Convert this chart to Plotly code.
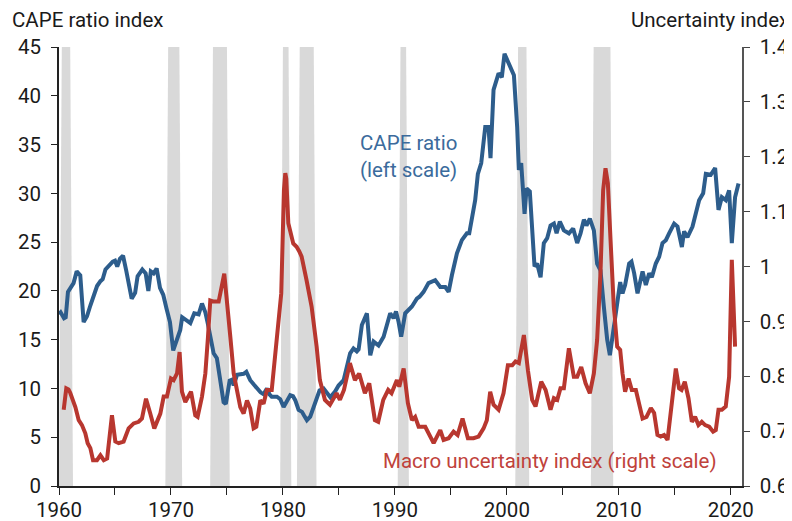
import plotly.graph_objects as go

# ---------------- data ----------------
cape_years = [1960.0, 1960.15, 1960.45, 1960.6, 1960.8, 1961.05, 1961.3, 1961.58, 1961.9, 1962.2,
              1962.5, 1962.8, 1963.1, 1963.4, 1963.7, 1963.9, 1964.15, 1964.5, 1964.8, 1965.0,
              1965.2, 1965.45, 1965.72, 1966.0, 1966.25, 1966.49, 1966.8, 1967.02, 1967.44, 1967.74,
              1967.98, 1968.2, 1968.45, 1968.72, 1969.02, 1969.31, 1969.6, 1969.91, 1970.2, 1970.5,
              1970.83, 1971.0, 1971.4, 1971.73, 1972.08, 1972.47, 1972.77, 1973.07, 1973.3, 1973.51,
              1973.81, 1974.1, 1974.4, 1974.7, 1974.9, 1975.24, 1975.45, 1975.6, 1975.9, 1976.2,
              1976.49, 1976.73, 1977.08, 1977.4, 1977.68, 1978.0, 1978.27, 1978.57, 1978.8, 1979.0,
              1979.46, 1979.76, 1980.06, 1980.35, 1980.65, 1980.9, 1981.1, 1981.4, 1981.7, 1981.9,
              1982.14, 1982.44, 1982.65, 1982.89, 1983.27, 1983.63, 1983.9, 1984.23, 1984.67, 1984.97,
              1985.42, 1985.71, 1986.0, 1986.3, 1986.6, 1986.76, 1987.05, 1987.5, 1987.8, 1988.1,
              1988.54, 1988.99, 1989.3, 1989.58, 1989.88, 1990.1, 1990.33, 1990.56, 1990.92, 1991.2,
              1991.52, 1991.96, 1992.2, 1992.56, 1993.0, 1993.6, 1994.05, 1994.5, 1994.8, 1995.09,
              1995.54, 1995.98, 1996.43, 1996.64, 1996.88, 1997.17, 1997.41, 1997.71, 1998.07, 1998.36,
              1998.54, 1998.81, 1999.26, 1999.55, 1999.79, 2000.03, 2000.33, 2000.63, 2000.92, 2001.07,
              2001.28, 2001.58, 2001.76, 2002.05, 2002.47, 2002.7, 2003.01, 2003.3, 2003.6, 2003.9,
              2004.2, 2004.44, 2004.73, 2005.09, 2005.54, 2005.92, 2006.28, 2006.58, 2006.88, 2007.11,
              2007.41, 2007.77, 2008.06, 2008.36, 2008.66, 2008.96, 2009.2, 2009.49, 2009.85, 2010.12,
              2010.33, 2010.56, 2010.92, 2011.13, 2011.37, 2011.67, 2012.12, 2012.41, 2012.71, 2012.95,
              2013.3, 2013.6, 2013.9, 2014.2, 2014.49, 2014.94, 2015.24, 2015.63, 2015.83, 2016.13,
              2016.58, 2016.88, 2017.17, 2017.53, 2017.77, 2018.21, 2018.6, 2018.9, 2019.2, 2019.55,
              2019.85, 2020.09, 2020.38, 2020.69]
cape_values = [17.6, 17.8, 17.2, 17.3, 19.9, 20.4, 20.8, 22.0, 21.6, 16.8,
               17.4, 18.5, 19.6, 20.5, 21.0, 21.2, 22.2, 22.7, 23.0, 23.1,
               22.5, 23.3, 23.6, 22.1, 20.8, 19.2, 19.8, 21.5, 22.2, 21.8,
               20.0, 22.0, 21.8, 22.3, 20.3, 19.6, 18.2, 16.8, 13.9, 14.9,
               16.0, 17.3, 17.0, 16.7, 17.7, 17.6, 18.7, 17.8, 16.6, 15.3,
               13.6, 13.1, 10.5, 8.6, 8.4, 10.8, 10.9, 10.3, 11.4, 11.5,
               11.5, 11.7, 10.85, 10.4, 10.0, 9.6, 9.4, 10.0, 9.4, 9.15,
               9.15, 8.9, 8.1, 8.7, 9.3, 9.2, 8.8, 7.8, 7.6, 7.2,
               6.75, 7.1, 7.8, 8.6, 9.8, 10.0, 9.6, 9.1, 9.7, 10.3,
               10.85, 12.2, 13.6, 14.1, 13.8, 14.0, 16.5, 17.7, 13.4, 14.8,
               14.4, 15.3, 16.5, 17.7, 17.2, 17.9, 16.8, 15.3, 17.7, 18.0,
               18.4, 19.2, 19.4, 19.9, 20.8, 21.1, 20.4, 20.4, 19.9, 21.6,
               23.85, 25.2, 25.9, 25.9, 27.6, 29.3, 32.0, 33.1, 36.8, 36.8,
               33.6, 40.6, 42.3, 41.9, 44.3, 43.6, 43.0, 42.1, 36.8, 32.4,
               33.1, 27.9, 30.5, 30.2, 22.5, 22.8, 21.4, 24.9, 25.4, 26.7,
               26.9, 25.9, 27.1, 26.2, 25.9, 26.4, 24.9, 25.9, 27.3, 26.7,
               27.4, 26.2, 22.8, 22.1, 18.4, 15.0, 13.4, 15.6, 18.7, 20.9,
               19.75, 20.6, 22.8, 23.0, 21.8, 19.75, 22.0, 20.6, 21.8, 21.4,
               22.8, 23.5, 24.9, 25.2, 25.9, 26.9, 26.6, 24.5, 26.1, 25.5,
               26.6, 27.9, 29.3, 30.0, 32.0, 31.9, 32.6, 28.3, 29.6, 29.3,
               30.3, 24.9, 29.6, 31.0]

unc_years = [1960.42, 1960.65, 1960.85, 1961.0, 1961.46, 1961.76, 1962.05, 1962.35, 1962.56, 1962.8,
             1963.04, 1963.39, 1963.7, 1964.0, 1964.3, 1964.73, 1965.03, 1965.33, 1965.77, 1966.22,
             1966.67, 1967.11, 1967.41, 1967.77, 1968.15, 1968.51, 1969.05, 1969.35, 1969.64, 1970.0,
             1970.24, 1970.54, 1970.77, 1970.98, 1971.28, 1971.79, 1972.17, 1972.38, 1972.77, 1973.07,
             1973.3, 1973.51, 1973.81, 1974.26, 1974.76, 1975.0, 1975.3, 1975.6, 1976.19, 1976.49,
             1976.79, 1977.08, 1977.38, 1977.62, 1977.98, 1978.27, 1978.57, 1979.0, 1979.3, 1979.6,
             1979.85, 1980.09, 1980.21, 1980.3, 1980.48, 1980.92, 1981.22, 1981.45, 1981.67, 1982.11,
             1982.56, 1983.01, 1983.3, 1983.75, 1984.2, 1984.79, 1985.09, 1985.45, 1985.98, 1986.43,
             1986.81, 1987.32, 1987.71, 1988.21, 1988.51, 1988.96, 1989.4, 1989.7, 1990.18, 1990.39,
             1990.78, 1991.16, 1991.52, 1991.81, 1992.12, 1992.71, 1993.0, 1993.46, 1994.05, 1994.35,
             1994.8, 1995.24, 1995.6, 1996.04, 1996.52, 1997.02, 1997.47, 1997.92, 1998.21, 1998.51,
             1998.81, 1999.26, 1999.7, 2000.09, 2000.48, 2000.77, 2001.07, 2001.52, 2001.88, 2002.26,
             2002.56, 2003.07, 2003.46, 2003.9, 2004.2, 2004.5, 2004.79, 2005.09, 2005.54, 2005.98,
             2006.28, 2006.64, 2007.03, 2007.41, 2007.77, 2008.06, 2008.36, 2008.6, 2008.81, 2009.02,
             2009.26, 2009.55, 2009.85, 2010.12, 2010.33, 2010.56, 2010.87, 2011.16, 2011.52, 2011.82,
             2012.12, 2012.47, 2012.86, 2013.15, 2013.45, 2013.74, 2014.04, 2014.35, 2014.64, 2015.09,
             2015.38, 2015.6, 2015.89, 2016.22, 2016.52, 2016.81, 2017.11, 2017.41, 2017.71, 2018.07,
             2018.42, 2018.66, 2018.9, 2019.2, 2019.55, 2019.85, 2020.09, 2020.38]
unc_values = [0.739, 0.778, 0.776, 0.770, 0.744, 0.720, 0.711, 0.696, 0.678, 0.669,
              0.647, 0.647, 0.656, 0.647, 0.650, 0.729, 0.681, 0.678, 0.681, 0.705,
              0.714, 0.717, 0.723, 0.759, 0.732, 0.705, 0.732, 0.763, 0.763, 0.796,
              0.793, 0.805, 0.844, 0.772, 0.753, 0.772, 0.729, 0.726, 0.763, 0.805,
              0.870, 0.938, 0.936, 0.936, 0.987, 0.927, 0.872, 0.805, 0.744, 0.732,
              0.756, 0.741, 0.705, 0.708, 0.756, 0.750, 0.775, 0.775, 0.835, 0.900,
              0.951, 1.139, 1.170, 1.160, 1.079, 1.042, 1.036, 1.028, 1.018, 0.975,
              0.927, 0.854, 0.793, 0.757, 0.748, 0.769, 0.757, 0.775, 0.824, 0.793,
              0.805, 0.769, 0.787, 0.720, 0.717, 0.757, 0.775, 0.769, 0.793, 0.781,
              0.814, 0.751, 0.720, 0.726, 0.708, 0.708, 0.696, 0.678, 0.702, 0.684,
              0.687, 0.699, 0.693, 0.723, 0.687, 0.687, 0.690, 0.705, 0.720, 0.772,
              0.748, 0.739, 0.769, 0.820, 0.820, 0.827, 0.824, 0.875, 0.811, 0.757,
              0.745, 0.790, 0.775, 0.739, 0.760, 0.757, 0.778, 0.778, 0.851, 0.799,
              0.799, 0.817, 0.787, 0.769, 0.805, 0.866, 0.988, 1.139, 1.179, 1.152,
              1.048, 0.927, 0.854, 0.848, 0.805, 0.772, 0.796, 0.775, 0.775, 0.745,
              0.723, 0.726, 0.742, 0.733, 0.693, 0.690, 0.693, 0.684, 0.732, 0.814,
              0.778, 0.775, 0.790, 0.760, 0.717, 0.726, 0.711, 0.717, 0.711, 0.708,
              0.699, 0.702, 0.739, 0.739, 0.745, 0.799, 1.012, 0.854]

# recession periods (first and last recession quarter)
rec_start = [1960.25, 1969.75, 1973.75, 1980.0, 1981.5, 1990.5, 2001.0, 2007.75]
rec_end = [1961.0, 1970.75, 1975.0, 1980.5, 1982.75, 1991.0, 2001.75, 2009.25]
rec_ramp = 0.25

x_ticks = [1960, 1970, 1980, 1990, 2000, 2010, 2020]

# ---------------- styles ----------------
BLUE = "#2D5D8C"
RED = "#B8372F"
BLUE_TXT = "#3B6B9C"
RED_TXT = "#BF423B"
GREY = "#D9D9D9"
FONT = "Roboto"
FS = 20.5

fig = go.Figure()

fig.add_trace(go.Scatter(x=cape_years, y=cape_values, mode="lines",
                         line=dict(color=BLUE, width=4), yaxis="y",
                         hoverinfo="skip", showlegend=False))
fig.add_trace(go.Scatter(x=unc_years, y=unc_values, mode="lines",
                         line=dict(color=RED, width=4), yaxis="y2",
                         hoverinfo="skip", showlegend=False))

shapes = []
for s, e in zip(rec_start, rec_end):
    path = (f"M {s - rec_ramp},0 L {s},1 L {e},1 L {e + rec_ramp},0 Z")
    shapes.append(dict(type="path", path=path, xref="x", yref="paper",
                       fillcolor=GREY, line=dict(width=0), layer="below"))

# the page adds an 8px body margin, so the figure is drawn 8px smaller
OFF = 8
W, H = 792 - OFF, 521 - OFF
L, R, T, B = 59 - OFF, 50, 47 - OFF, 35
pw, ph = W - L - R, H - T - B


def px_x(px):
    return (px - OFF - L) / pw


def px_y(py):
    return (H - B - (py - OFF)) / ph


annotations = [
    dict(text="CAPE ratio index", x=px_x(10), y=px_y(20), xref="paper", yref="paper",
         xanchor="left", yanchor="middle", showarrow=False,
         font=dict(family=FONT, size=FS, color="#1a1a1a")),
    dict(text="Uncertainty index", x=px_x(791), y=px_y(20), xref="paper", yref="paper",
         xanchor="right", yanchor="middle", showarrow=False,
         font=dict(family=FONT, size=FS, color="#1a1a1a")),
    dict(text="CAPE ratio<br>(left scale)", x=px_x(358), y=px_y(156), xref="paper", yref="paper",
         xanchor="left", yanchor="middle", align="left", showarrow=False,
         font=dict(family=FONT, size=FS, color=BLUE_TXT)),
    dict(text="Macro uncertainty index (right scale)", x=px_x(381), y=px_y(461),
         xref="paper", yref="paper", xanchor="left", yanchor="middle", showarrow=False,
         font=dict(family=FONT, size=FS, color=RED_TXT)),
]

fig.update_layout(
    width=W, height=H,
    margin=dict(l=L, r=R, t=T, b=B, pad=0, autoexpand=False),
    paper_bgcolor="white", plot_bgcolor="white",
    font=dict(family=FONT, size=FS, color="#1a1a1a"),
    shapes=shapes, annotations=annotations,
    showlegend=False,
    xaxis=dict(range=[1960, 2021], tickvals=x_ticks, ticks="outside", ticklen=7,
               tickwidth=1.3, tickcolor="#222", showline=True, linecolor="#222",
               linewidth=1.5, showgrid=False, zeroline=False, automargin=False,
               ticklabelstandoff=-2,
               minor=dict(ticks="outside", ticklen=7, tickwidth=1.3, tickcolor="#222",
                          dtick=5, tick0=1960, showgrid=False),
               tickfont=dict(family=FONT, size=FS)),
    yaxis=dict(range=[0, 45], dtick=5, tick0=0, ticks="outside", ticklen=6, tickwidth=1.3,
               tickcolor="#222", showline=True, linecolor="#222", linewidth=1.5,
               showgrid=False, zeroline=False, ticklabelstandoff=6, automargin=False,
               tickfont=dict(family=FONT, size=FS)),
    yaxis2=dict(range=[0.6, 1.4], dtick=0.1, tick0=0.6, overlaying="y", side="right",
                ticks="outside", ticklen=6, tickwidth=1.3, tickcolor="#444",
                showline=True, linecolor="#555", linewidth=1.5, showgrid=False,
                zeroline=False, ticklabelstandoff=6, automargin=False,
                tickfont=dict(family=FONT, size=FS)),
)

fig.write_html("out.html")
